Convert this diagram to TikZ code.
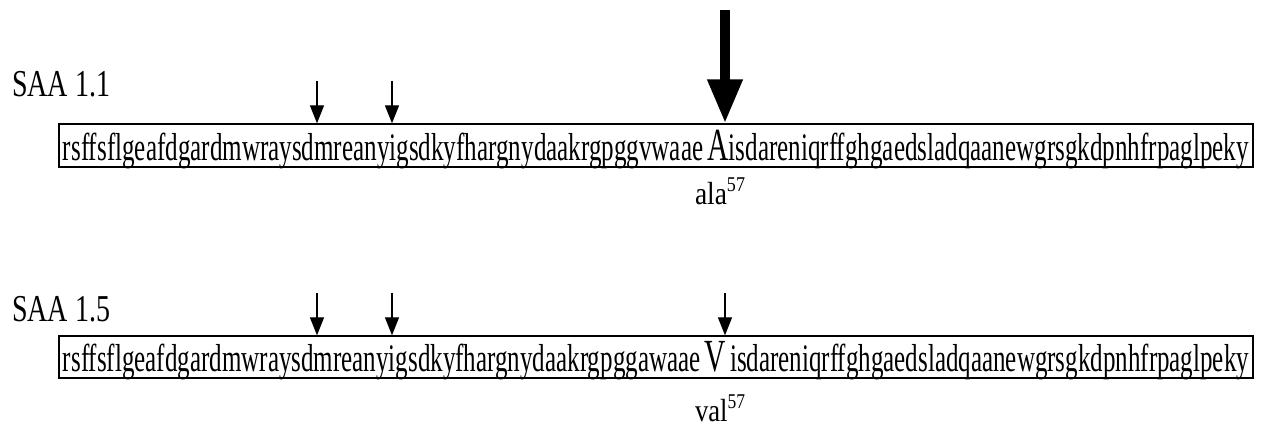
\documentclass[tikz,border=0pt]{standalone}
\usepackage{fontspec}
\setmainfont{Liberation Serif}
\usetikzlibrary{arrows.meta}
\tikzset{
  seqbox/.style={draw, line width=1.3pt, minimum width=1194pt, inner sep=0pt, fill=none},
  seqtext/.style={anchor=base, inner sep=0pt, font=\fontsize{39}{40}\selectfont},
  namelabel/.style={anchor=base west, inner sep=0pt, font=\fontsize{38}{40}\selectfont},
  reslabel/.style={anchor=base, inner sep=0pt, font=\fontsize{32}{34}\selectfont},
  smallarrow/.style={line width=1.3pt, -{Triangle[length=18pt,width=14pt]}},
  bigarrow/.style={line width=10pt, -{Triangle[length=44pt,width=33pt]}},
}
\newcommand{\supnum}[1]{\raisebox{13pt}{\fontsize{21}{21}\selectfont #1}}
\newcommand{\seqA}{rsffsflgeafdgardmwraysdmreanyigsdkyfhargnydaakrgpggvwaae\,{\fontsize{46}{46}\selectfont A}isdareniqrffghgaedsladqaanewgrsgkdpnhfrpaglpeky}
\newcommand{\seqV}{rsffsflgeafdgardmwraysdmreanyigsdkyfhargnydaakrgpggawaae\,{\fontsize{46}{46}\selectfont V}\,isdareniqrffghgaedsladqaanewgrsgkdpnhfrpaglpeky}
\begin{document}
\begin{tikzpicture}[x=1pt,y=1pt]
\useasboundingbox (0,0) rectangle (1263,428);
% SAA 1.1
\node[namelabel] (lab1) at (12,331) {\resizebox{98pt}{\height}{SAA 1.1}};
\node[seqbox, minimum height=43pt] (seq1) at (656,282.5) {};
\node[seqtext] (txt1) at (656,267) {\resizebox{1186pt}{\height}{\seqA}};
\node[reslabel] (res1) at (720,223) {\resizebox{50pt}{\height}{ala\supnum{57}}};
\coordinate (a1) at (317,347);
\coordinate (a2) at (392,347);
\coordinate (a3) at (725,418);
\draw[smallarrow] (a1) -- (a1 |- seq1.north);
\draw[smallarrow] (a2) -- (a2 |- seq1.north);
\draw[bigarrow] (a3) -- (a3 |- seq1.north);
% SAA 1.5
\node[namelabel] (lab2) at (12,106) {\resizebox{98pt}{\height}{SAA 1.5}};
\node[seqbox, minimum height=42pt] (seq2) at (656,71) {};
\node[seqtext] (txt2) at (656,56) {\resizebox{1186pt}{\height}{\seqV}};
\node[reslabel] (res2) at (720,6) {\resizebox{50pt}{\height}{val\supnum{57}}};
\coordinate (b1) at (317,135);
\coordinate (b2) at (392,135);
\coordinate (b3) at (725,135);
\draw[smallarrow] (b1) -- (b1 |- seq2.north);
\draw[smallarrow] (b2) -- (b2 |- seq2.north);
\draw[smallarrow] (b3) -- (b3 |- seq2.north);
\end{tikzpicture}
\end{document}
